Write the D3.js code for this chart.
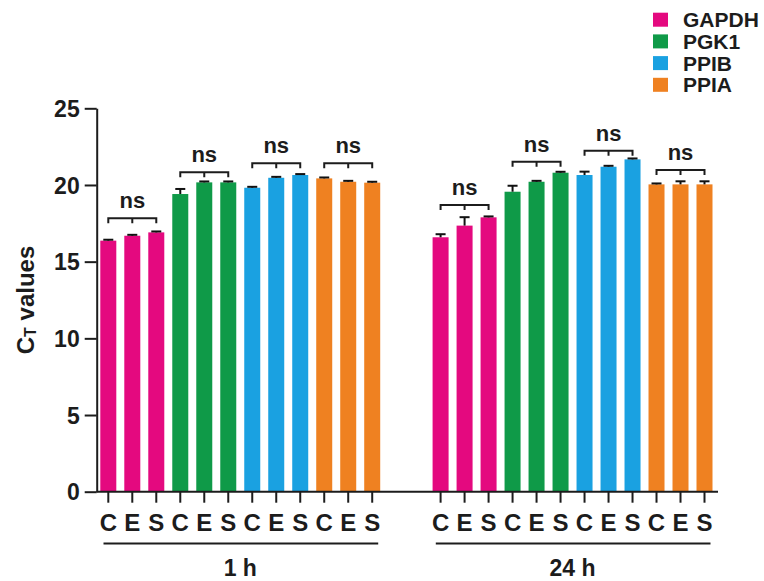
<html>
<head>
<meta charset="utf-8">
<title>CT values</title>
<style>
    body { margin:0; background:#fff; }
    text { font-family: "Liberation Sans", Arial, sans-serif; font-weight: bold; fill:#1c1c1c; }
    .axis path, .axis line { stroke:#1c1c1c; stroke-width:2px; }
    .bracket { fill:none; stroke:#1c1c1c; stroke-width:2px; }
    .err { stroke:#111; stroke-width:2px; }
</style>
</head>
<body>
<div id="chart"></div>
<script src="https://cdnjs.cloudflare.com/ajax/libs/d3/7.8.5/d3.min.js"></script>
<script>
    // data
    var genes = ["GAPDH", "PGK1", "PPIB", "PPIA"];
    var conds = ["C", "E", "S"];
    var times = ["1 h", "24 h"];
    var colors = ["#E4097F", "#0F9A48", "#1AA1E1", "#EF8121"];

    var mean1h = [[16.37, 16.69, 16.91], [19.41, 20.17, 20.17], [19.82, 20.47, 20.65], [20.43, 20.21, 20.15]];
    var sd1h   = [[0.06, 0.06, 0.06], [0.33, 0.06, 0.06], [0.06, 0.06, 0.06], [0.06, 0.06, 0.06]];
    var mean24h = [[16.59, 17.35, 17.89], [19.56, 20.21, 20.80], [20.65, 21.19, 21.67], [20.04, 20.04, 20.04]];
    var sd24h   = [[0.20, 0.55, 0.06], [0.39, 0.06, 0.06], [0.22, 0.06, 0.06], [0.06, 0.20, 0.20]];
    // height of the "ns" brackets (in Ct units)
    var bracket1h = [17.83, 20.83, 21.41, 21.41];
    var bracket24h = [18.69, 21.52, 22.24, 20.98];
    var yTicks = [0, 5, 10, 15, 20, 25];

    var width = 764, height = 581;
    var svg = d3.select("#chart").append("svg").attr("width", width).attr("height", height);

    var y = d3.scaleLinear().domain([0, 25]).range([491.7, 108.3]);
    var x = d3.scaleLinear().domain([0, 24.85]).range([108.3, 704.5]);
    var groupOffset = [0, 13.85];
    var barW = 16;

    var bars = [];
    [mean1h, mean24h].forEach(function(m, t) {
        var sd = t == 0 ? sd1h : sd24h;
        genes.forEach(function(g, gi) {
            conds.forEach(function(c, ci) {
                bars.push({t: t, gene: gi, cond: c, v: m[gi][ci], sd: sd[gi][ci],
                    pos: groupOffset[t] + gi * 3 + ci});
            });
        });
    });

    // bars
    svg.append("g").selectAll("rect").data(bars).enter().append("rect")
        .attr("x", d => x(d.pos) - barW / 2)
        .attr("y", d => y(d.v))
        .attr("width", barW)
        .attr("height", d => y(0) - y(d.v))
        .attr("fill", d => colors[d.gene]);

    // error bars (upper only)
    var eg = svg.append("g");
    eg.selectAll("line.v").data(bars).enter().append("line").attr("class", "err")
        .attr("x1", d => x(d.pos)).attr("x2", d => x(d.pos))
        .attr("y1", d => y(d.v)).attr("y2", d => y(d.v + d.sd));
    eg.selectAll("line.c").data(bars).enter().append("line").attr("class", "err")
        .attr("x1", d => x(d.pos) - 5).attr("x2", d => x(d.pos) + 5)
        .attr("y1", d => y(d.v + d.sd)).attr("y2", d => y(d.v + d.sd));

    // ns brackets
    var br = [];
    [bracket1h, bracket24h].forEach(function(b, t) {
        genes.forEach(function(g, gi) {
            br.push({t: t, gi: gi, v: b[gi], p0: groupOffset[t] + gi * 3});
        });
    });
    var bg = svg.append("g");
    bg.selectAll("path").data(br).enter().append("path").attr("class", "bracket")
        .attr("d", function(d) {
            var x0 = x(d.p0), x1 = x(d.p0 + 1), x2 = x(d.p0 + 2), yy = y(d.v);
            return "M" + x0 + "," + (yy + 5) + "V" + yy + "H" + x2 + "V" + (yy + 5) +
                "M" + x1 + "," + yy + "V" + (yy + 5);
        });
    bg.selectAll("text").data(br).enter().append("text")
        .attr("x", d => x(d.p0 + 1)).attr("y", d => y(d.v) - 10)
        .attr("text-anchor", "middle").style("font-size", "22px")
        .text("ns");

    // y axis
    var yAxis = svg.append("g").attr("class", "axis")
        .attr("transform", "translate(96.7,0)")
        .call(d3.axisLeft(y).tickValues(yTicks).tickSize(12).tickPadding(5).tickSizeOuter(0));
    yAxis.selectAll("text").style("font-size", "23px").attr("dy", "0.36em");

    svg.append("text")
        .attr("transform", "translate(34,300) rotate(-90)")
        .attr("text-anchor", "middle")
        .style("font-size", "24px")
        .html('C<tspan style="font-size:16px" dy="2">T</tspan><tspan dy="-2"> values</tspan>');

    // x axis line
    svg.append("line").attr("x1", 96.7).attr("x2", 718).attr("y1", y(0)).attr("y2", y(0))
        .attr("stroke", "#1c1c1c").attr("stroke-width", 2);
    var xt = svg.append("g");
    xt.selectAll("line").data(bars).enter().append("line")
        .attr("x1", d => x(d.pos)).attr("x2", d => x(d.pos))
        .attr("y1", y(0)).attr("y2", y(0) + 11)
        .attr("stroke", "#1c1c1c").attr("stroke-width", 2);
    xt.selectAll("text").data(bars).enter().append("text")
        .attr("x", d => x(d.pos)).attr("y", 530.5)
        .attr("text-anchor", "middle").style("font-size", "24px")
        .text(d => d.cond);

    // group underline + labels
    var tg = svg.append("g");
    tg.selectAll("line").data(times).enter().append("line")
        .attr("x1", (d, i) => x(groupOffset[i] - 0.2)).attr("x2", (d, i) => x(groupOffset[i] + 11.25))
        .attr("y1", 543.5).attr("y2", 543.5)
        .attr("stroke", "#1c1c1c").attr("stroke-width", 2);
    tg.selectAll("text").data(times).enter().append("text")
        .attr("x", (d, i) => x(groupOffset[i] + 5.5)).attr("y", 576)
        .attr("text-anchor", "middle").style("font-size", "23px")
        .text(d => d);

    // legend
    var lg = svg.append("g").attr("transform", "translate(653,12.7)");
    var li = lg.selectAll("g").data(genes).enter().append("g")
        .attr("transform", (d, i) => "translate(0," + i * 21.7 + ")");
    li.append("rect").attr("width", 15).attr("height", 14).attr("fill", (d, i) => colors[i]);
    li.append("text").attr("x", 30).attr("y", 14.5).style("font-size", "21px").text(d => d);
</script>
</body>
</html>
